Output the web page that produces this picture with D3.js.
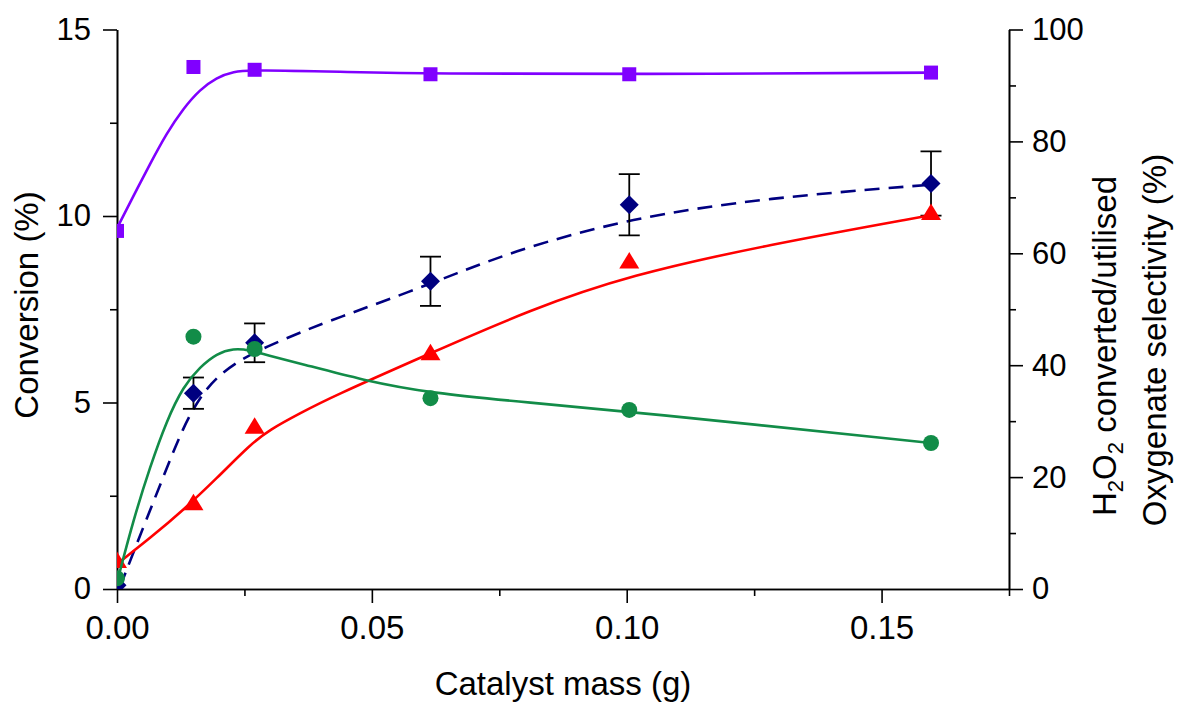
<!DOCTYPE html>
<html lang="en">
<head>
	<meta charset="UTF-8">
	<title>Conversion vs catalyst mass</title>
	<script src="https://cdn.jsdelivr.net/npm/d3@7"></script>
	<style>
	body {
		margin: 0;
		background-color: #ffffff;
	}
	text {
		font-family: "Liberation Sans", Arial, sans-serif;
		fill: #000;
	}
	.axis path, .axis line {
		stroke: #000;
		stroke-width: 1.6px;
	}
	</style>
</head>
<body>
<script>
	// catalyst mass (g) for the measured points
	var mass = [0, 0.015, 0.027, 0.0615, 0.1005, 0.1597];

	// left axis: conversion (%) with error bars
	var conversion = [0.1, 5.25, 6.6, 8.25, 10.3, 10.87];
	var conversionErr = [0, 0.42, 0.52, 0.66, 0.82, 0.86];

	// right axis (%)
	var oxySelectivity = [64.0, 93.3, 92.8, 92.0, 92.0, 92.3];
	var h2o2Converted = [5.2, 15.5, 29.2, 42.3, 58.7, 67.4];
	var h2o2Utilised = [1.9, 45.1, 42.9, 34.1, 32.0, 26.1];

	// fitted trend lines as [mass, value]
	var conversionFit = [[0.0006, 0.06], [0.0052, 1.67], [0.0091, 3.01], [0.0130, 4.35], [0.0163, 5.15],
		[0.0196, 5.69], [0.0242, 6.15], [0.0294, 6.50], [0.036, 6.88], [0.0419, 7.2], [0.0615, 8.17],
		[0.0772, 9.05], [0.1008, 9.95], [0.1276, 10.49], [0.1597, 10.84]];
	var selectivityFit = [[0, 64.5], [0.0032, 70.2], [0.0065, 76.0], [0.0097, 81.4], [0.0130, 85.9],
		[0.0163, 89.3], [0.0195, 91.4], [0.0228, 92.5], [0.0267, 92.8], [0.0457, 92.4], [0.0615, 92.1],
		[0.1006, 92.0], [0.1597, 92.3]];
	var convertedFit = [[0.0006, 4.9], [0.0065, 9.1], [0.0130, 14.1], [0.0196, 19.8],
		[0.0261, 25.8], [0.0300, 28.5], [0.0359, 31.4], [0.0418, 34.2], [0.0614, 42.1], [0.0810, 49.9],
		[0.1006, 56.1], [0.1275, 61.5], [0.1596, 66.8]];
	var utilisedFit = [[0.0003, 2.2], [0.0032, 12.3], [0.0065, 21.9], [0.0098, 30.2], [0.0130, 36.2],
		[0.0163, 39.7], [0.0196, 42.1], [0.0228, 43.0], [0.0261, 42.7], [0.0294, 41.8], [0.0360, 40.3],
		[0.0483, 37.3], [0.0615, 35.0], [0.0811, 33.3], [0.1008, 31.7], [0.1597, 26.1]];

	var xTicks = [0, 0.05, 0.10, 0.15];
	var xMinor = [0.025, 0.075, 0.125, 0.175];
	var yLeftTicks = [0, 5, 10, 15];
	var yLeftMinor = [2.5, 7.5, 12.5];
	var yRightTicks = [0, 20, 40, 60, 80, 100];
	var yRightMinor = [10, 30, 50, 70, 90];

	var W = 1180, H = 702;
	var plot = {left: 117, right: 1009, top: 29.5, bottom: 589};

	var svg = d3.select('body').append('svg')
		.attr('width', W)
		.attr('height', H);

	svg.append('rect').attr('width', W).attr('height', H).attr('fill', '#fff');

	var x = d3.scaleLinear().domain([0, 0.175]).range([plot.left, plot.right]);
	var yL = d3.scaleLinear().domain([0, 15]).range([plot.bottom, plot.top]);
	var yR = d3.scaleLinear().domain([0, 100]).range([plot.bottom, plot.top]);

	svg.append('clipPath').attr('id', 'plotclip')
		.append('rect')
		.attr('x', plot.left).attr('y', plot.top)
		.attr('width', plot.right - plot.left).attr('height', plot.bottom - plot.top);

	// axes
	svg.append('g').attr('class', 'axis')
		.attr('transform', 'translate(0,' + plot.bottom + ')')
		.call(d3.axisBottom(x).tickValues(xMinor).tickSize(7).tickSizeOuter(0).tickFormat(''));
	svg.append('g').attr('class', 'axis')
		.attr('transform', 'translate(0,' + plot.bottom + ')')
		.style('font-size', '33px')
		.call(d3.axisBottom(x).tickValues(xTicks).tickSize(14).tickPadding(13).tickSizeOuter(0)
			.tickFormat(d3.format('.2f')));

	svg.append('g').attr('class', 'axis')
		.attr('transform', 'translate(' + plot.left + ',0)')
		.call(d3.axisLeft(yL).tickValues(yLeftMinor).tickSize(7).tickSizeOuter(0).tickFormat(''));
	svg.append('g').attr('class', 'axis')
		.attr('transform', 'translate(' + plot.left + ',0)')
		.style('font-size', '31px')
		.call(d3.axisLeft(yL).tickValues(yLeftTicks).tickSize(14).tickPadding(12).tickSizeOuter(0));

	svg.append('g').attr('class', 'axis')
		.attr('transform', 'translate(' + plot.right + ',0)')
		.call(d3.axisRight(yR).tickValues(yRightMinor).tickSize(7).tickSizeOuter(0).tickFormat(''));
	svg.append('g').attr('class', 'axis')
		.attr('transform', 'translate(' + plot.right + ',0)')
		.style('font-size', '31px')
		.call(d3.axisRight(yR).tickValues(yRightTicks).tickSize(14).tickPadding(9).tickSizeOuter(0));

	svg.selectAll('.axis text').style('font-family', '"Liberation Sans", Arial, sans-serif').attr('fill', '#000');

	// axis titles
	svg.append('text')
		.attr('x', (plot.left + plot.right) / 2)
		.attr('y', 695)
		.attr('text-anchor', 'middle')
		.style('font-size', '33px')
		.text('Catalyst mass (g)');

	svg.append('text')
		.attr('transform', 'translate(38,305) rotate(-90)')
		.attr('text-anchor', 'middle')
		.style('font-size', '33px')
		.text('Conversion (%)');

	var r1 = svg.append('text')
		.attr('transform', 'translate(1116,346) rotate(-90)')
		.attr('text-anchor', 'middle')
		.style('font-size', '33px');
	r1.append('tspan').text('H');
	r1.append('tspan').attr('dy', 7).style('font-size', '22px').text('2');
	r1.append('tspan').attr('dy', -7).text('O');
	r1.append('tspan').attr('dy', 7).style('font-size', '22px').text('2');
	r1.append('tspan').attr('dy', -7).text(' converted/utilised');

	svg.append('text')
		.attr('transform', 'translate(1166,340) rotate(-90)')
		.attr('text-anchor', 'middle')
		.style('font-size', '33px')
		.text('Oxygenate selectivity (%)');

	// data layer
	var g = svg.append('g').attr('clip-path', 'url(#plotclip)');

	var line = function (yScale) {
		return d3.line()
			.x(function (d) { return x(d[0]); })
			.y(function (d) { return yScale(d[1]); })
			.curve(d3.curveBasis);
	};

	var pts = function (vals) {
		return mass.map(function (m, i) { return {m: m, v: vals[i], i: i}; });
	};

	// conversion (navy, dashed, diamonds, error bars)
	g.append('path')
		.datum(conversionFit)
		.attr('d', line(yL))
		.attr('fill', 'none')
		.attr('stroke', '#000080')
		.attr('stroke-width', 2.6)
		.attr('stroke-dasharray', '15,9');

	var eb = g.selectAll('.err')
		.data(pts(conversion).filter(function (d) { return conversionErr[d.i] > 0; }))
		.enter().append('g').attr('class', 'err')
		.attr('stroke', '#000').attr('stroke-width', 1.8);
	eb.append('line')
		.attr('x1', function (d) { return x(d.m); })
		.attr('x2', function (d) { return x(d.m); })
		.attr('y1', function (d) { return yL(d.v - conversionErr[d.i]); })
		.attr('y2', function (d) { return yL(d.v + conversionErr[d.i]); });
	[-1, 1].forEach(function (s) {
		eb.append('line')
			.attr('x1', function (d) { return x(d.m) - 10.5; })
			.attr('x2', function (d) { return x(d.m) + 10.5; })
			.attr('y1', function (d) { return yL(d.v + s * conversionErr[d.i]); })
			.attr('y2', function (d) { return yL(d.v + s * conversionErr[d.i]); });
	});

	g.selectAll('.diamond')
		.data(pts(conversion))
		.enter().append('path')
		.attr('class', 'diamond')
		.attr('d', function (d) {
			var cx = x(d.m), cy = yL(d.v), a = 9.5, b = 9.5;
			return 'M' + cx + ',' + (cy - b) + 'L' + (cx + a) + ',' + cy + 'L' + cx + ',' + (cy + b) + 'L' + (cx - a) + ',' + cy + 'Z';
		})
		.attr('fill', '#000080');

	// H2O2 converted (red, triangles)
	g.append('path')
		.datum(convertedFit)
		.attr('d', line(yR))
		.attr('fill', 'none')
		.attr('stroke', '#ff0000')
		.attr('stroke-width', 2.6);

	g.selectAll('.tri')
		.data(pts(h2o2Converted))
		.enter().append('path')
		.attr('class', 'tri')
		.attr('d', function (d) {
			var cx = x(d.m), cy = yR(d.v);
			return 'M' + cx + ',' + (cy - 8.5) + 'L' + (cx + 10) + ',' + (cy + 8) + 'L' + (cx - 10) + ',' + (cy + 8) + 'Z';
		})
		.attr('fill', '#ff0000');

	// H2O2 utilised (green, circles)
	g.append('path')
		.datum(utilisedFit)
		.attr('d', line(yR))
		.attr('fill', 'none')
		.attr('stroke', '#128c48')
		.attr('stroke-width', 2.6);

	g.selectAll('.dot')
		.data(pts(h2o2Utilised))
		.enter().append('circle')
		.attr('class', 'dot')
		.attr('cx', function (d) { return x(d.m); })
		.attr('cy', function (d) { return yR(d.v); })
		.attr('r', 8)
		.attr('fill', '#128c48');

	// oxygenate selectivity (purple, squares)
	g.append('path')
		.datum(selectivityFit)
		.attr('d', line(yR))
		.attr('fill', 'none')
		.attr('stroke', '#8000ff')
		.attr('stroke-width', 2.6);

	g.selectAll('.sq')
		.data(pts(oxySelectivity))
		.enter().append('rect')
		.attr('class', 'sq')
		.attr('x', function (d) { return x(d.m) - 7; })
		.attr('y', function (d) { return yR(d.v) - 7; })
		.attr('width', 14)
		.attr('height', 14)
		.attr('fill', '#8000ff');
</script>
</body>
</html>
